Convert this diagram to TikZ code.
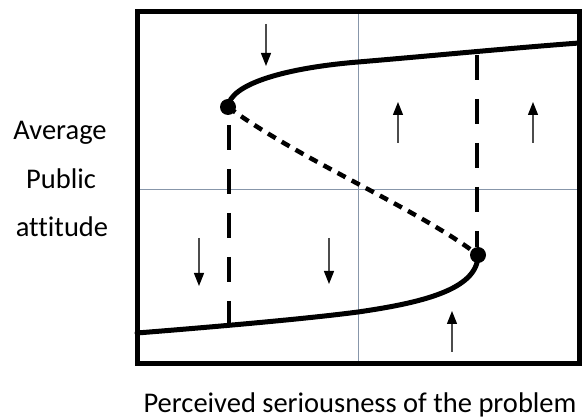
\documentclass[tikz,border=0pt]{standalone}
\usepackage{fontspec}
\setmainfont{Carlito}[Ligatures=NoCommon]
\usetikzlibrary{arrows.meta}
\definecolor{gridgray}{RGB}{135,150,170}
\tikzset{
  branch/.style={line width=5pt,line cap=round},
  unstable/.style={line width=4.5pt,dash pattern=on 9pt off 7pt},
  jump/.style={line width=4.5pt,dash pattern=on 25pt off 19pt},
  flow/.style={line width=1.3pt,black!70,-{Triangle[length=13pt,width=10pt,color=black]}},
  fold/.style={circle,fill=black,inner sep=0pt,minimum size=16pt},
  axisline/.style={line width=0.9pt,color=gridgray},
  lab/.style={font=\fontsize{28.5}{34}\selectfont,anchor=base}
}
\begin{document}
\begin{tikzpicture}[x=1pt,y=-1pt]
\useasboundingbox (0,0) rectangle (584,419);

\draw[axisline] (358,12) -- (358,364) (137,189) -- (579,189);

\node[fold] (top) at (228,107) {};
\node[fold] (bot) at (478,255) {};

\draw[branch] (top.center) .. controls (230,84) and (285,68) .. (358,62) .. controls (430,56) and (500,49) .. (579,43);
\draw[branch] (137,333) .. controls (250,324) and (320,317) .. (358,312) .. controls (420,303) and (478,290) .. (bot.center);
\draw[unstable] (top.center) .. controls (300,160) and (420,210) .. (bot.center);

\coordinate (jl1) at (229,125);
\coordinate (jl2) at (229,326);
\coordinate (jr1) at (477,55);
\coordinate (jr2) at (477,247);
\draw[jump] (jl1) -- (jl2);
\draw[jump] (jr1) -- (jr2);

\foreach \x/\ya/\yb in {266/24/66, 398/143/102, 533/143/102, 199/238/286, 329/238/284, 452/352/311}
  \draw[flow] (\x,\ya) -- (\x,\yb);

\draw[line width=5pt] (137,12) rectangle (579,364);

\node[lab] (avg) at (60,140) {Average};
\node[lab] (pub) at (61,189) {Public};
\node[lab] (att) at (62,237) {attitude};
\node[lab] (xlab) at (360,413) {Perceived seriousness of the problem};
\end{tikzpicture}
\end{document}
